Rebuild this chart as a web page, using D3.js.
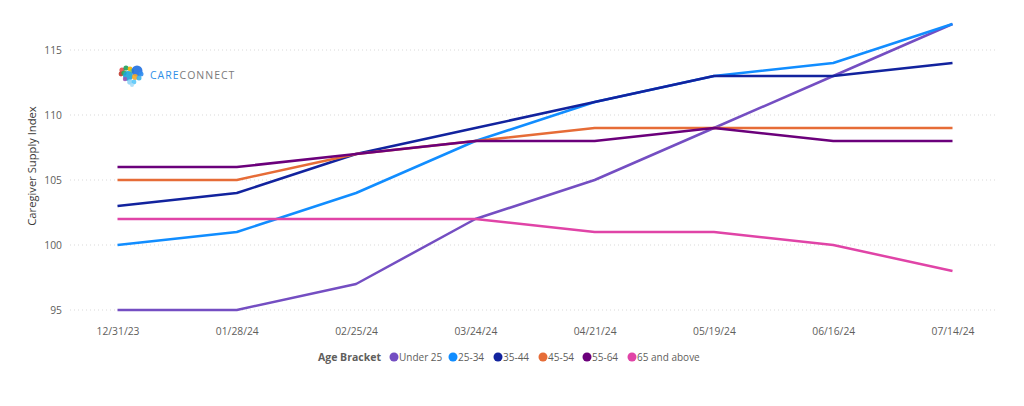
<!DOCTYPE html>
<html>
<head>
<meta charset="utf-8">
<script src="https://cdn.jsdelivr.net/npm/d3@7"></script>
<style>
  html, body { margin: 0; padding: 0; background: #fff; }
  svg { display: block; font-family: "Segoe UI", "Open Sans", "Noto Sans", sans-serif; }
</style>
</head>
<body>
<svg id="chart" width="1024" height="406"></svg>
<script>
const dates = ["12/31/23", "01/28/24", "02/25/24", "03/24/24", "04/21/24", "05/19/24", "06/16/24", "07/14/24"];
const seriesNames = ["Under 25", "25-34", "35-44", "45-54", "55-64", "65 and above"];
const under25 = [95, 95, 97, 102, 105, 109, 113, 117];
const age25to34 = [100, 101, 104, 108, 111, 113, 114, 117];
const age35to44 = [103, 104, 107, 109, 111, 113, 113, 114];
const age45to54 = [105, 105, 107, 108, 109, 109, 109, 109];
const age55to64 = [106, 106, 107, 108, 108, 109, 108, 108];
const age65plus = [102, 102, 102, 102, 101, 101, 100, 98];
const yTicks = [95, 100, 105, 110, 115];
const colors = ["#744EC2", "#118DFF", "#12239E", "#E66C37", "#6B007B", "#E044A7"];

const seriesValues = [under25, age25to34, age35to44, age45to54, age55to64, age65plus];
const series = seriesNames.map((n, i) => ({ name: n, values: seriesValues[i], color: colors[i] }));

const svg = d3.select("#chart");

const x = d3.scalePoint().domain(dates).range([117.5, 952.5]);
const y = d3.scaleLinear().domain([95, 115]).range([310, 50]);

// gridlines
svg.append("g").selectAll("line").data(yTicks).join("line")
  .attr("x1", 70).attr("x2", 998)
  .attr("y1", d => y(d)).attr("y2", d => y(d))
  .attr("stroke", "#d9d9d9").attr("stroke-width", 1)
  .attr("stroke-dasharray", "1,3");

// y axis
const yAxis = svg.append("g").attr("transform", "translate(62,0)")
  .call(d3.axisLeft(y).tickValues(yTicks).tickSize(0).tickPadding(0));
yAxis.select(".domain").remove();
yAxis.selectAll("text").attr("fill", "#605E5C").style("font-size", "10.3px")
  .style("font-family", "'Segoe UI', 'Open Sans', sans-serif");

// x axis
const xAxis = svg.append("g").attr("transform", "translate(0,328)")
  .call(d3.axisBottom(x).tickSize(0).tickPadding(0));
xAxis.select(".domain").remove();
xAxis.selectAll("text").attr("fill", "#605E5C").style("font-size", "10.3px")
  .style("font-family", "'Segoe UI', 'Open Sans', sans-serif");

// y title
svg.append("text")
  .attr("transform", "translate(36,166) rotate(-90)")
  .attr("text-anchor", "middle")
  .attr("fill", "#3b3a39")
  .style("font-size", "11.2px")
  .text("Caregiver Supply Index");

// lines
const line = d3.line().x((d, i) => x(dates[i])).y(d => y(d));
svg.append("g").selectAll("path").data(series).join("path")
  .attr("d", d => line(d.values))
  .attr("fill", "none")
  .attr("stroke", d => d.color)
  .attr("stroke-width", 2.5)
  .attr("stroke-linejoin", "round")
  .attr("stroke-linecap", "butt");

// legend
const legend = svg.append("g").attr("transform", "translate(0,357)");
legend.append("text").attr("x", 318).attr("y", 4)
  .attr("fill", "#605E5C").style("font-size", "10.5px").style("font-weight", "bold")
  .text("Age Bracket");
const legendX = [394, 453, 498, 543, 587, 632];
const items = legend.selectAll("g.item").data(series).join("g").attr("class", "item")
  .attr("transform", (d, i) => `translate(${legendX[i]},0)`);
items.append("circle").attr("r", 4.5).attr("cy", 0).attr("fill", d => d.color);
items.append("text").attr("x", 5).attr("y", 4)
  .attr("fill", "#605E5C").style("font-size", "10px").text(d => d.name);

// logo (heart made of coloured circles)
const logo = svg.append("g").attr("transform", "translate(131,75)");
const dots = [
  [-9, -5, 2.6, "#E84C4C"], [-5, -7, 2.6, "#1E9E5A"], [-1, -6, 2.4, "#F5B400"], [1, -4, 2.2, "#8CCF4D"],
  [-10, -1, 2.4, "#C0392B"], [-7, -2, 2.6, "#27AE60"],
  [-3, 1, 5, "#1CA4D8"], [6, -4, 5.5, "#1F6FE0"], [10, -1, 2.5, "#2D8CF0"],
  [4, 2, 3, "#F5A623"], [8, 3, 2.5, "#3BB3E8"], [-1, 7, 2.8, "#8FD3F5"], [3, 7, 2.4, "#5AC8FA"],
  [1, 10, 2, "#A8DDF7"], [-6, 4, 2.2, "#9B59B6"]
];
logo.selectAll("circle").data(dots).join("circle")
  .attr("cx", d => d[0]).attr("cy", d => d[1]).attr("r", d => d[2]).attr("fill", d => d[3]).attr("opacity", 0.9);
const logoText = svg.append("text").attr("x", 150).attr("y", 79)
  .style("font-size", "10.5px").style("letter-spacing", "1px");
logoText.append("tspan").attr("fill", "#2F8FE8").text("CARE");
logoText.append("tspan").attr("fill", "#7a7a7a").text("CONNECT");
</script>
</body>
</html>
